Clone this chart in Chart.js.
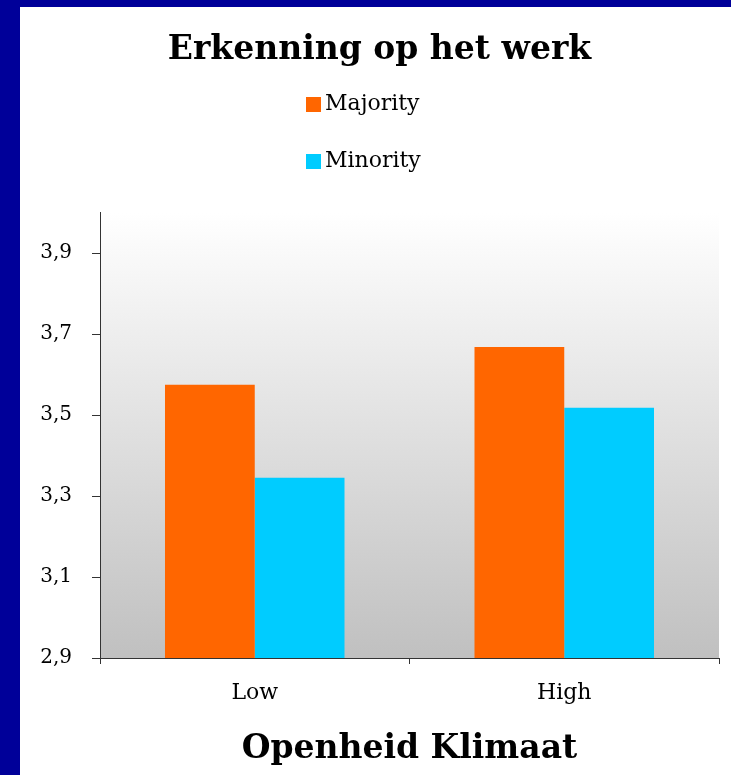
<!DOCTYPE html>
<html lang="nl">
<head>
    <meta charset="UTF-8">
    <title>Erkenning op het werk</title>
    <style>
        body {
            margin: 0;
            background-color: #000099;
        }
        .chart-box {
            position: absolute;
            left: 20px;
            top: 7px;
            width: 711px;
            height: 768px;
            background-color: #ffffff;
        }
    </style>
    <script src="https://cdn.jsdelivr.net/npm/chart.js"></script>
</head>
<body>
    <div class="chart-box">
        <canvas id="werk-chart"></canvas>
    </div>
    <script>
        // data
        const categories = ['Low', 'High'];
        const majority = [3.575, 3.668];
        const minority = [3.345, 3.518];
        const yTicks = [2.9, 3.1, 3.3, 3.5, 3.7, 3.9];

        const serif = "'DejaVu Serif', 'Liberation Serif', serif";

        // grey gradient behind the bars (drawn before the axes so the lines stay visible)
        const plotBackground = {
            id: 'plotBackground',
            beforeDraw(chart) {
                const a = chart.chartArea;
                const ctx = chart.ctx;
                const g = ctx.createLinearGradient(0, a.top, 0, a.bottom);
                g.addColorStop(0, '#ffffff');
                g.addColorStop(1, '#c0c0c0');
                ctx.save();
                ctx.fillStyle = g;
                ctx.fillRect(a.left, a.top, a.right - a.left, a.bottom - a.top);
                ctx.restore();
            }
        };

        // legend stacked in two rows, under the title
        const stackedLegend = {
            id: 'stackedLegend',
            afterDraw(chart) {
                const ctx = chart.ctx;
                ctx.save();
                ctx.font = '22px ' + serif;
                ctx.textBaseline = 'middle';
                chart.data.datasets.forEach(function (ds, i) {
                    const y = 97 + i * 57;
                    ctx.fillStyle = ds.backgroundColor;
                    ctx.fillRect(286, y - 7, 15, 15);
                    ctx.fillStyle = '#000000';
                    ctx.fillText(ds.label, 305, y);
                });
                ctx.restore();
            }
        };

        new Chart(document.getElementById('werk-chart'), {
            type: 'bar',
            data: {
                labels: categories,
                datasets: [{
                    label: 'Majority',
                    data: majority,
                    backgroundColor: '#ff6600',
                    categoryPercentage: 0.58,
                    barPercentage: 1.0
                }, {
                    label: 'Minority',
                    data: minority,
                    backgroundColor: '#00ccff',
                    categoryPercentage: 0.58,
                    barPercentage: 1.0
                }]
            },
            options: {
                responsive: true,
                maintainAspectRatio: false,
                animation: false,
                layout: {
                    padding: { left: 20, right: 12, top: 0, bottom: 0 }
                },
                plugins: {
                    legend: { display: false },
                    tooltip: { enabled: false },
                    title: {
                        display: true,
                        text: 'Erkenning op het werk',
                        color: '#000000',
                        font: { family: serif, size: 33, weight: 'bold' },
                        padding: { top: 24, bottom: 142 }
                    }
                },
                scales: {
                    x: {
                        grid: {
                            offset: true,
                            drawOnChartArea: false,
                            tickLength: 6,
                            color: '#333333'
                        },
                        border: { display: true, color: '#333333' },
                        ticks: {
                            color: '#000000',
                            padding: 16,
                            font: { family: serif, size: 22 }
                        },
                        title: {
                            display: true,
                            text: 'Openheid Klimaat',
                            color: '#000000',
                            font: { family: serif, size: 33, weight: 'bold' },
                            padding: { top: 0, bottom: 6 }
                        },
                        afterFit(scale) {
                            scale.height = 117;
                        }
                    },
                    y: {
                        min: 2.9,
                        max: 4.0,
                        grid: {
                            drawOnChartArea: false,
                            tickLength: 8,
                            color: '#333333'
                        },
                        border: { display: true, color: '#333333' },
                        ticks: {
                            color: '#000000',
                            padding: 20,
                            font: { family: serif, size: 20 },
                            callback: function (v) {
                                return v.toFixed(1).replace('.', ',');
                            }
                        },
                        afterBuildTicks(scale) {
                            scale.ticks = yTicks.map(function (v) { return { value: v }; });
                        },
                        afterFit(scale) {
                            scale.width = 60;
                        }
                    }
                }
            },
            plugins: [plotBackground, stackedLegend]
        });
    </script>
</body>
</html>
